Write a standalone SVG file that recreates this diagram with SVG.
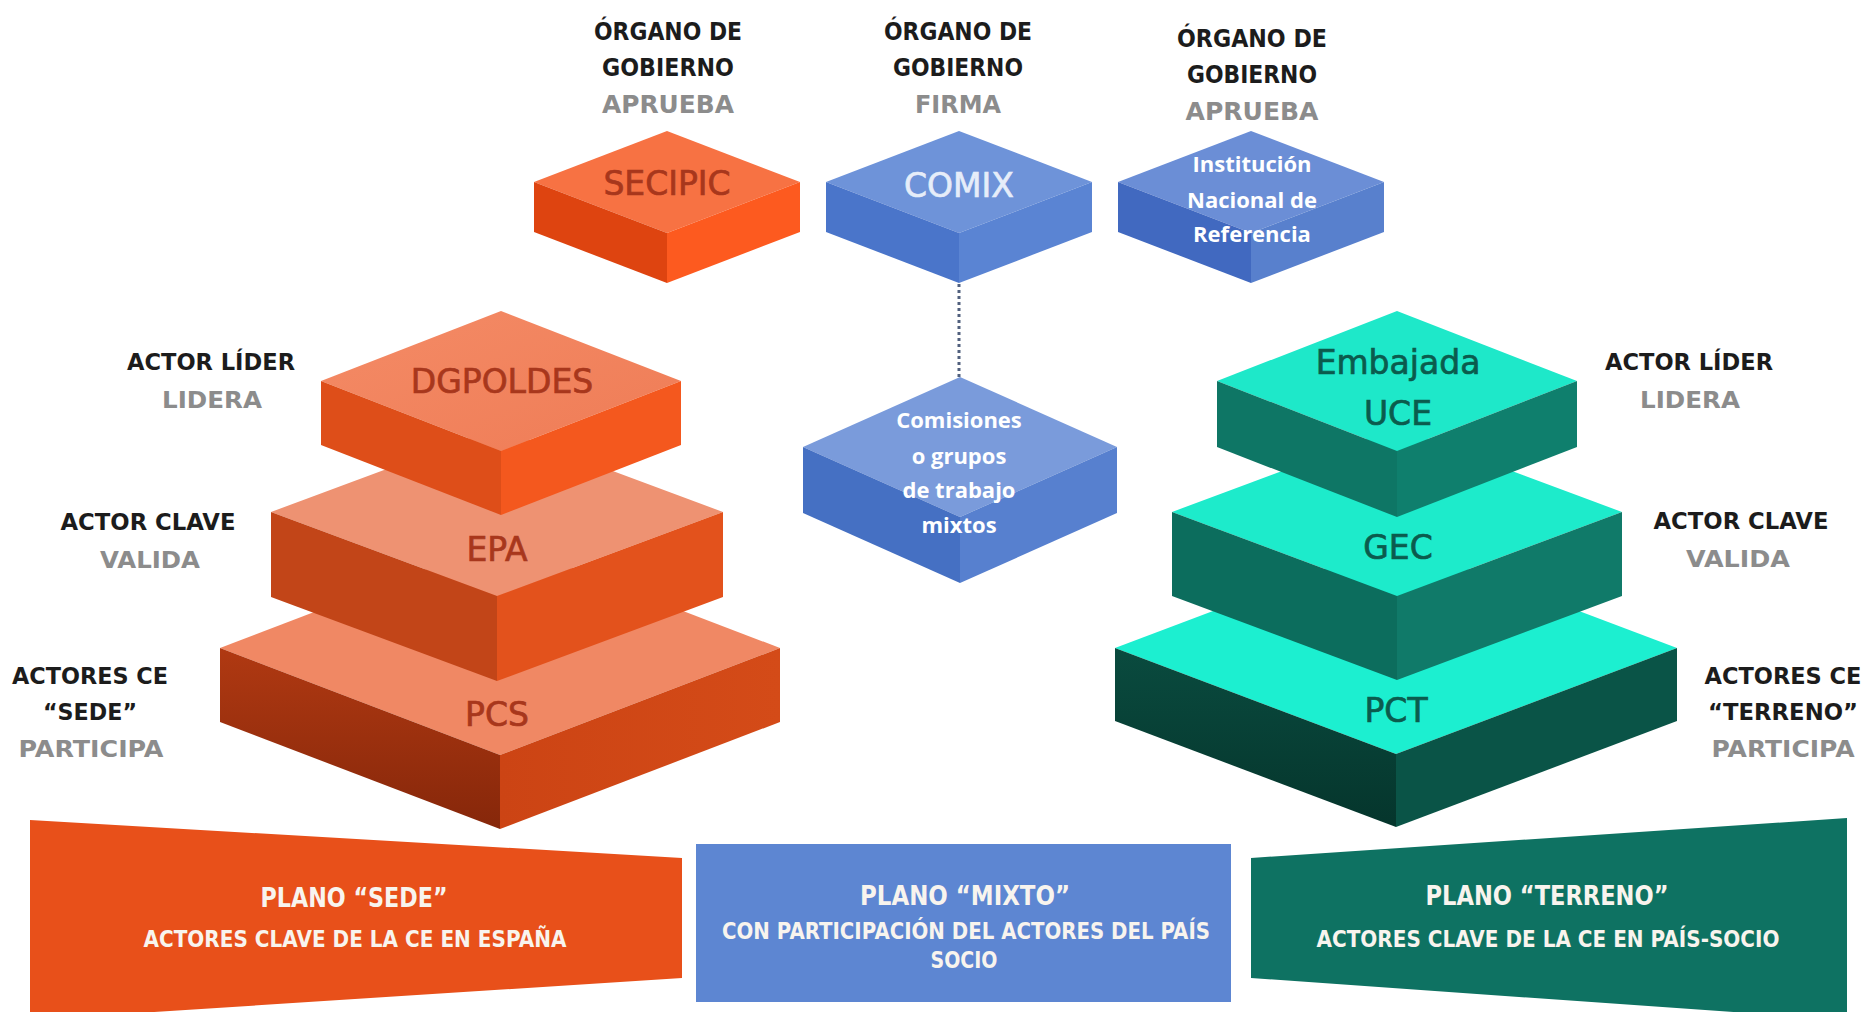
<svg xmlns="http://www.w3.org/2000/svg" width="1864" height="1012" viewBox="0 0 1864 1012">
<defs>
<style>
.lbl{font-family:"DejaVu Sans","Liberation Sans",sans-serif;font-weight:bold;font-size:23px;fill:#1c1c1c;text-anchor:middle}
.gry{fill:#8c8c8c}
.tp{font-size:25px}
.blk{font-family:"DejaVu Sans","Liberation Sans",sans-serif;font-size:33px;text-anchor:middle;stroke-width:0.7px}
.or{fill:#A8371C;stroke:#A8371C}
.te{fill:#0B5B4D;stroke:#0B5B4D}
.bl{fill:#E6EDF9;stroke:#E6EDF9}
.wt{font-family:"Open Sans","Liberation Sans",sans-serif;font-weight:bold;font-size:22px;fill:#ffffff;text-anchor:middle}
.bt{font-family:"DejaVu Sans","Liberation Sans",sans-serif;font-weight:bold;fill:#F8F4EE;text-anchor:middle}
.b1{font-size:26px}
.b2{font-size:23px}
.conn{stroke:#51607E;stroke-width:3;stroke-dasharray:3 3;fill:none}
</style>
<linearGradient id="gPcsL" x1="0" y1="0" x2="0" y2="1"><stop offset="0" stop-color="#B03912"/><stop offset="1" stop-color="#86270A"/></linearGradient>
<linearGradient id="gPcsR" x1="0" y1="0" x2="1" y2="0"><stop offset="0" stop-color="#CC4414"/><stop offset="1" stop-color="#D44B18"/></linearGradient>
<linearGradient id="gPctL" x1="0" y1="0" x2="0" y2="1"><stop offset="0" stop-color="#0A4B3F"/><stop offset="1" stop-color="#05352C"/></linearGradient>
<linearGradient id="gOrT" x1="0" y1="0" x2="1" y2="1"><stop offset="0" stop-color="#F48B66"/><stop offset="1" stop-color="#EF7C56"/></linearGradient>
</defs>
<rect width="1864" height="1012" fill="#ffffff"/>

<g id="label-organo-1">
<text class="lbl tp" x="668" y="40" textLength="148" lengthAdjust="spacingAndGlyphs">ÓRGANO DE</text>
<text class="lbl tp" x="668" y="76" textLength="132" lengthAdjust="spacingAndGlyphs">GOBIERNO</text>
<text class="lbl tp gry" x="668" y="113" textLength="132" lengthAdjust="spacingAndGlyphs">APRUEBA</text>
</g>
<g id="label-organo-2">
<text class="lbl tp" x="958" y="40" textLength="148" lengthAdjust="spacingAndGlyphs">ÓRGANO DE</text>
<text class="lbl tp" x="958" y="76" textLength="130" lengthAdjust="spacingAndGlyphs">GOBIERNO</text>
<text class="lbl tp gry" x="958" y="113" textLength="86" lengthAdjust="spacingAndGlyphs">FIRMA</text>
</g>
<g id="label-organo-3">
<text class="lbl tp" x="1252" y="47" textLength="150" lengthAdjust="spacingAndGlyphs">ÓRGANO DE</text>
<text class="lbl tp" x="1252" y="83" textLength="130" lengthAdjust="spacingAndGlyphs">GOBIERNO</text>
<text class="lbl tp gry" x="1252" y="120" textLength="133" lengthAdjust="spacingAndGlyphs">APRUEBA</text>
</g>

<g id="label-left-lider">
<text class="lbl" x="211" y="370" textLength="168" lengthAdjust="spacingAndGlyphs">ACTOR LÍDER</text>
<text class="lbl gry" x="212" y="408" textLength="100" lengthAdjust="spacingAndGlyphs">LIDERA</text>
</g>
<g id="label-left-clave">
<text class="lbl" x="148" y="530" textLength="175" lengthAdjust="spacingAndGlyphs">ACTOR CLAVE</text>
<text class="lbl gry" x="150" y="568" textLength="100" lengthAdjust="spacingAndGlyphs">VALIDA</text>
</g>
<g id="label-left-actores">
<text class="lbl" x="90" y="684" textLength="156" lengthAdjust="spacingAndGlyphs">ACTORES CE</text>
<text class="lbl" x="90" y="720" textLength="94" lengthAdjust="spacingAndGlyphs">“SEDE”</text>
<text class="lbl gry" x="91" y="757" textLength="145" lengthAdjust="spacingAndGlyphs">PARTICIPA</text>
</g>
<g id="label-right-lider">
<text class="lbl" x="1689" y="370" textLength="168" lengthAdjust="spacingAndGlyphs">ACTOR LÍDER</text>
<text class="lbl gry" x="1690" y="408" textLength="100" lengthAdjust="spacingAndGlyphs">LIDERA</text>
</g>
<g id="label-right-clave">
<text class="lbl" x="1741" y="529" textLength="175" lengthAdjust="spacingAndGlyphs">ACTOR CLAVE</text>
<text class="lbl gry" x="1738" y="567" textLength="104" lengthAdjust="spacingAndGlyphs">VALIDA</text>
</g>
<g id="label-right-actores">
<text class="lbl" x="1783" y="684" textLength="157" lengthAdjust="spacingAndGlyphs">ACTORES CE</text>
<text class="lbl" x="1783" y="720" textLength="150" lengthAdjust="spacingAndGlyphs">“TERRENO”</text>
<text class="lbl gry" x="1783" y="757" textLength="143" lengthAdjust="spacingAndGlyphs">PARTICIPA</text>
</g>

<g id="connectors">
<line class="conn" x1="959" y1="284" x2="959" y2="377"/>
</g>

<g id="node-secipic">
<polygon points="667,131 800,182 667,233 534,182" fill="#F77243"/>
<polygon points="534,182 667,233 667,283 534,232" fill="#DE4410"/>
<polygon points="667,233 800,182 800,232 667,283" fill="#FD5A1F"/>
<text class="blk or" x="667" y="195">SECIPIC</text>
</g>
<g id="node-comix">
<polygon points="959,131 1092,182 959,233 826,182" fill="#6E93D9"/>
<polygon points="826,182 959,233 959,283 826,232" fill="#4A75CA"/>
<polygon points="959,233 1092,182 1092,232 959,283" fill="#5A84D3"/>
<text class="blk bl" x="959" y="197">COMIX</text>
</g>
<g id="node-institucion">
<polygon points="1251,131 1384,182 1251,233 1118,182" fill="#6B8ED6"/>
<polygon points="1118,182 1251,233 1251,283 1118,232" fill="#4169C0"/>
<polygon points="1251,233 1384,182 1384,232 1251,283" fill="#5880CD"/>
<text class="wt" x="1252" y="172">Institución</text>
<text class="wt" x="1252" y="208">Nacional de</text>
<text class="wt" x="1252" y="242">Referencia</text>
</g>
<g id="node-comisiones">
<polygon points="960,377 1117,447 960,517 803,447" fill="#7A9BDB"/>
<polygon points="803,447 960,517 960,583 803,513" fill="#4570C3"/>
<polygon points="960,517 1117,447 1117,513 960,583" fill="#5780CF"/>
<text class="wt" x="959" y="428">Comisiones</text>
<text class="wt" x="959" y="464">o grupos</text>
<text class="wt" x="959" y="498">de trabajo</text>
<text class="wt" x="959" y="533">mixtos</text>
</g>

<g id="node-pcs">
<polygon points="500,541 780,648 500,755 220,648" fill="#F08864"/>
<polygon points="220,648 500,755 500,829 220,722" fill="url(#gPcsL)"/>
<polygon points="500,755 780,648 780,722 500,829" fill="url(#gPcsR)"/>
<text class="blk or" x="497" y="726">PCS</text>
</g>
<g id="node-epa">
<polygon points="497,428 723,512 497,596 271,512" fill="#EE9272"/>
<polygon points="271,512 497,596 497,681 271,597" fill="#C24518"/>
<polygon points="497,596 723,512 723,597 497,681" fill="#E3521C"/>
<text class="blk or" x="497" y="561">EPA</text>
</g>
<g id="node-dgpoldes">
<polygon points="501,311 681,381 501,451 321,381" fill="url(#gOrT)"/>
<polygon points="321,381 501,451 501,515 321,445" fill="#DE4E19"/>
<polygon points="501,451 681,381 681,445 501,515" fill="#F4581E"/>
<text class="blk or" x="502" y="393">DGPOLDES</text>
</g>

<g id="node-pct">
<polygon points="1396,542 1677,648 1396,754 1115,648" fill="#1CEFD0"/>
<polygon points="1115,648 1396,754 1396,827 1115,721" fill="url(#gPctL)"/>
<polygon points="1396,754 1677,648 1677,721 1396,827" fill="#0A5447"/>
<text class="blk te" x="1396" y="722">PCT</text>
</g>
<g id="node-gec">
<polygon points="1397,428 1622,512 1397,596 1172,512" fill="#1DEBCB"/>
<polygon points="1172,512 1397,596 1397,680 1172,596" fill="#0C6D5D"/>
<polygon points="1397,596 1622,512 1622,596 1397,680" fill="#107A69"/>
<text class="blk te" x="1398" y="559">GEC</text>
</g>
<g id="node-uce">
<polygon points="1397,311 1577,381 1397,451 1217,381" fill="#1EE8C9"/>
<polygon points="1217,381 1397,451 1397,517 1217,447" fill="#0E7665"/>
<polygon points="1397,451 1577,381 1577,447 1397,517" fill="#0F7F6D"/>
<text class="blk te" x="1398" y="374">Embajada</text>
<text class="blk te" x="1398" y="425">UCE</text>
</g>

<g id="node-plano-sede">
<polygon points="30,820 682,858 682,978 30,1020" fill="#E8501A"/>
<text class="bt b1" x="354" y="907" textLength="187" lengthAdjust="spacingAndGlyphs">PLANO “SEDE”</text>
<text class="bt b2" x="355" y="947" textLength="423" lengthAdjust="spacingAndGlyphs">ACTORES CLAVE DE LA CE EN ESPAÑA</text>
</g>
<g id="node-plano-mixto">
<rect x="696" y="844" width="535" height="158" fill="#5D86D2"/>
<text class="bt b1" x="965" y="905" textLength="210" lengthAdjust="spacingAndGlyphs">PLANO “MIXTO”</text>
<text class="bt b2" x="966" y="939" textLength="488" lengthAdjust="spacingAndGlyphs">CON PARTICIPACIÓN DEL ACTORES DEL PAÍS</text>
<text class="bt b2" x="964" y="968" textLength="67" lengthAdjust="spacingAndGlyphs">SOCIO</text>
</g>
<g id="node-plano-terreno">
<polygon points="1251,858 1847,818 1847,1020 1251,978" fill="#0E7262"/>
<text class="bt b1" x="1547" y="905" textLength="243" lengthAdjust="spacingAndGlyphs">PLANO “TERRENO”</text>
<text class="bt b2" x="1548" y="947" textLength="463" lengthAdjust="spacingAndGlyphs">ACTORES CLAVE DE LA CE EN PAÍS-SOCIO</text>
</g>
</svg>
